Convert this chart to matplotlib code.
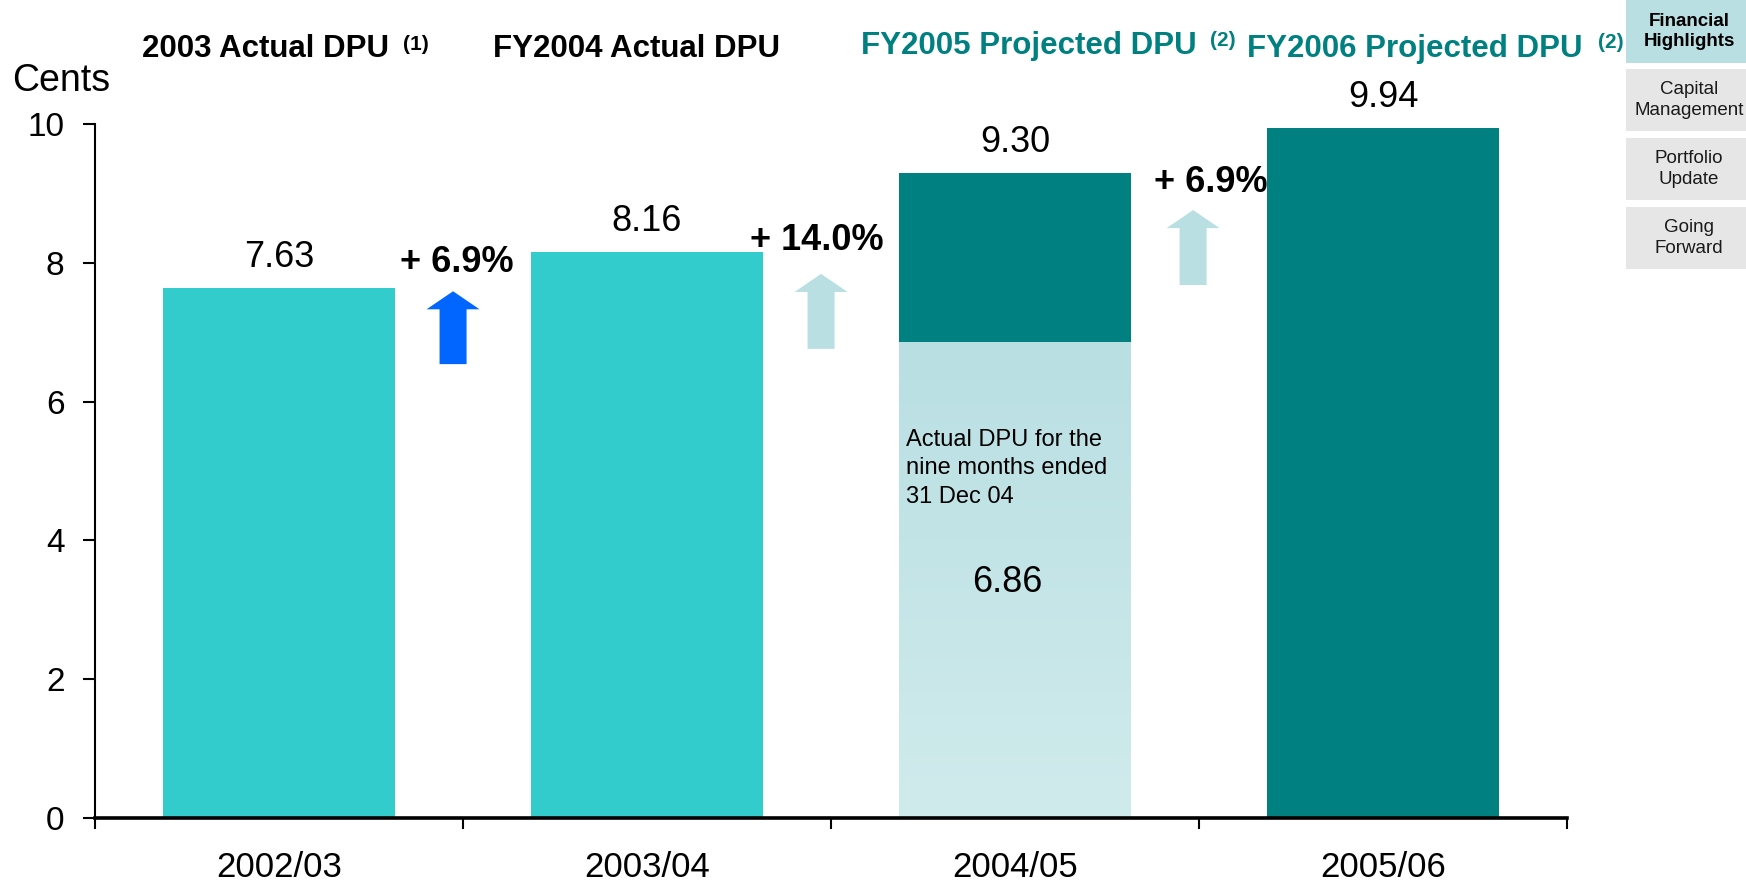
import numpy as np
import matplotlib
matplotlib.use('Agg')
import matplotlib.pyplot as plt
from matplotlib.patches import Rectangle, FancyArrow
from matplotlib.colors import LinearSegmentedColormap

plt.rcParams['font.family'] = ['Liberation Sans', 'DejaVu Sans']

# data
years = ['2002/03', '2003/04', '2004/05', '2005/06']
dpu = [7.63, 8.16, 9.30, 9.94]
nine_months_dpu = 6.86
growth = ['+ 6.9%', '+ 14.0%', '+ 6.9%']
headers = ['2003 Actual DPU', 'FY2004 Actual DPU', 'FY2005 Projected DPU', 'FY2006 Projected DPU']
header_notes = ['(1)', '', '(2)', '(2)']
menu = ['Financial\nHighlights', 'Capital\nManagement', 'Portfolio\nUpdate', 'Going\nForward']

turquoise = '#33CCCC'
teal = '#008080'
pale = '#B9DFE3'

W, H = 1746, 882
fig = plt.figure(figsize=(W / 100, H / 100), dpi=100)
ax = fig.add_axes([95 / W, 1 - 818 / H, (1567 - 95) / W, (818 - 124) / H])

x = np.arange(len(years))
bw = 0.63

ax.bar(x[:2], dpu[:2], width=bw, color=turquoise, zorder=2)
low = ax.bar(x[2], nine_months_dpu, width=bw, color=pale, zorder=2)[0]
ax.bar(x[2], dpu[2] - nine_months_dpu, bottom=nine_months_dpu, width=bw, color=teal, zorder=2)
ax.bar(x[3], dpu[3], width=bw, color=teal, zorder=2)

# gradient on the nine months part
cm = LinearSegmentedColormap.from_list('g', ['#D0EBEC', pale])
im = ax.imshow(np.linspace(0, 1, 256).reshape(-1, 1), cmap=cm, origin='lower', aspect='auto',
               extent=[x[2] - bw / 2, x[2] + bw / 2, 0, nine_months_dpu], zorder=2.5)
im.set_clip_path(low)

for i, v in enumerate(dpu):
    ax.text(x[i], v + 0.44, f'{v:.2f}', ha='center', va='center', fontsize=26)

ax.text(1.98, 3.39, f'{nine_months_dpu:.2f}', ha='center', va='center', fontsize=26, zorder=3)
ax.text(1.704, 5.61, 'Actual DPU for the\nnine months ended\n31 Dec 04', ha='left', va='top',
        fontsize=17, linespacing=1.38, zorder=3)

# growth labels and arrows
gx = [0.482, 1.462, 2.533]
gy = [8.0, 8.32, 9.15]
for i, g in enumerate(growth):
    ax.text(gx[i], gy[i], g, ha='center', va='center', fontsize=26, fontweight='bold')

arrows = [(0.473, 6.54, 7.59, '#0066FF'), (1.473, 6.76, 7.84, pale), (2.484, 7.68, 8.76, pale)]
for ax_x, y0, y1, c in arrows:
    ax.add_patch(FancyArrow(ax_x, y0, 0, y1 - y0, width=0.0734, head_width=0.144, head_length=0.26,
                            length_includes_head=True, color=c, lw=0, zorder=3))

ax.set_xlim(-0.5, 3.5)
ax.set_ylim(0, 10)
ax.set_yticks(range(0, 11, 2))
ax.set_xticks(x)
ax.set_xticklabels(years)
ax.set_xticks(np.arange(-0.5, 3.6, 1), minor=True)
ax.tick_params(axis='y', direction='out', length=9, width=1.5, pad=13, labelsize=24)
ax.tick_params(axis='x', which='major', length=0, pad=23.5, labelsize=25)
ax.tick_params(axis='x', which='minor', direction='out', length=8, width=1.5)
for s in ['top', 'right']:
    ax.spines[s].set_visible(False)
ax.spines['left'].set_linewidth(1.5)
ax.spines['bottom'].set_linewidth(2.6)
ax.spines['bottom'].set_zorder(4)

fig.text(61 / W, 1 - 81 / H, 'Cents', ha='center', va='center', fontsize=27)

# headers
hpos = [(142, 49, 403, 44, 'black'), (493, 49, 0, 0, 'black'),
        (861, 46, 1210, 41, teal), (1247, 49, 1598, 43, teal)]
for i, (hx, hy, sx, sy, c) in enumerate(hpos):
    fig.text(hx / W, 1 - hy / H, headers[i], ha='left', va='center', fontsize=22.5,
             fontweight='bold', color=c)
    if header_notes[i]:
        fig.text(sx / W, 1 - sy / H, header_notes[i], ha='left', va='center', fontsize=15,
                 fontweight='bold', color=c)

# side menu
boxes = [(0, 63), (69, 131), (138, 200), (207, 269)]
for i, (t, b) in enumerate(boxes):
    fc = pale if i == 0 else '#E6E6E6'
    fig.add_artist(Rectangle((1626 / W, 1 - b / H), (W - 1626) / W, (b - t) / H,
                             transform=fig.transFigure, facecolor=fc, edgecolor='none'))
    fig.text(1689 / W, 1 - (t + b) / 2 / H, menu[i], ha='center', va='center', fontsize=13.5,
             fontweight='bold' if i == 0 else 'normal', color='black' if i == 0 else '#1a1a1a',
             linespacing=1.3)

fig.savefig('out.png', dpi=100)
